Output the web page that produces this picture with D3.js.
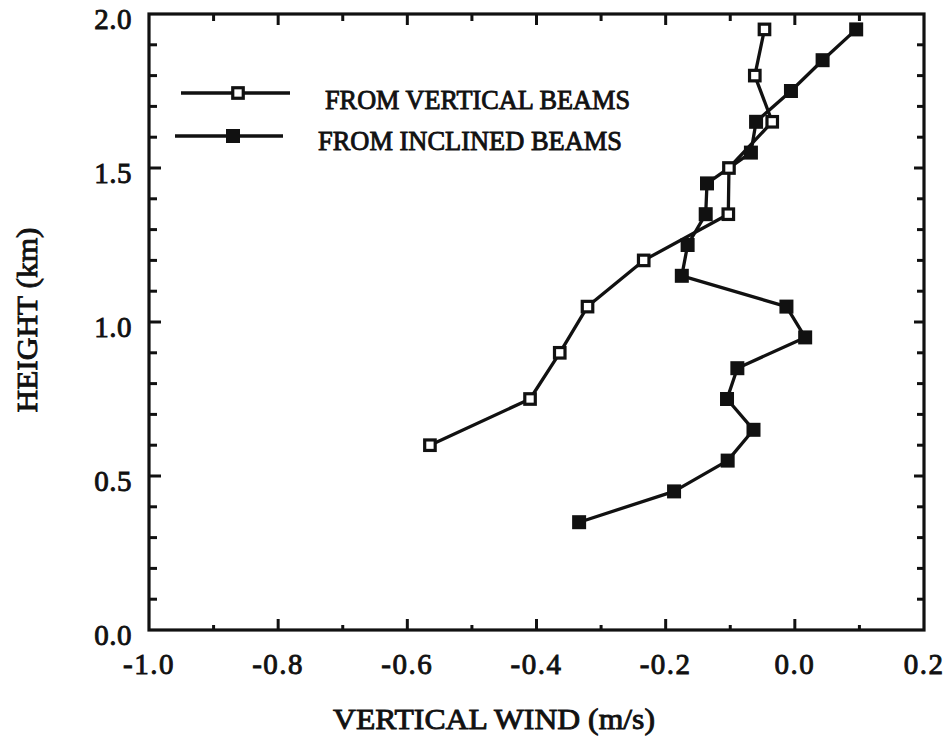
<!DOCTYPE html>
<html>
<head>
<meta charset="utf-8">
<script src="https://cdn.jsdelivr.net/npm/d3@7"></script>
<style>
  html, body { margin: 0; padding: 0; background: #fff; }
  svg { display: block; }
  text { font-family: "Liberation Serif", "Times New Roman", serif; fill: #111; }
</style>
</head>
<body>
<svg id="chart" width="947" height="744"></svg>
<script>
// Vertical wind profiles (m/s) versus height (km)
const verticalHeights = [1.95, 1.80, 1.65, 1.50, 1.35, 1.20, 1.05, 0.90, 0.75, 0.60];
const verticalWind    = [-0.047, -0.062, -0.035, -0.102, -0.103, -0.234, -0.321, -0.364, -0.410, -0.565];

const inclinedHeights = [1.95, 1.85, 1.75, 1.65, 1.55, 1.45, 1.35, 1.25, 1.15, 1.05, 0.95, 0.85, 0.75, 0.65, 0.55, 0.45, 0.35];
const inclinedWind    = [0.095, 0.043, -0.006, -0.060, -0.068, -0.136, -0.138, -0.166, -0.175, -0.013, 0.016, -0.089, -0.105, -0.064, -0.104, -0.187, -0.334];

const xTickLabels = ["-1.0", "-0.8", "-0.6", "-0.4", "-0.2", "0.0", "0.2"];
const yTickLabels = ["0.0", "0.5", "1.0", "1.5", "2.0"];
const seriesNames = ["FROM VERTICAL BEAMS", "FROM INCLINED BEAMS"];

const svg = d3.select("#chart");
const plotL = 149, plotR = 924, plotT = 14, plotB = 630;

const x = d3.scaleLinear().domain([-1.0, 0.2]).range([plotL, plotR]);
const y = d3.scaleLinear().domain([0, 2.0]).range([plotB, plotT]);

const ink = "#111";
const textStroke = 0.9;

// minor ticks every 0.1, major ticks at labelled values
const xMinor = d3.range(-9, 2).map(d => d / 10);
const yMinor = d3.range(1, 20).map(d => d / 10);
const isMajorX = v => Math.abs(Math.round(v * 10)) % 2 === 0;
const isMajorY = v => Math.round(v * 10) % 5 === 0;

const g = svg.append("g");

// bottom / top ticks (inward)
g.selectAll("line.xb").data(xMinor).enter().append("line")
  .attr("x1", d => x(d)).attr("x2", d => x(d))
  .attr("y1", plotB).attr("y2", d => plotB - (isMajorX(d) ? 11 : 5))
  .attr("stroke", ink).attr("stroke-width", 3);
g.selectAll("line.xt").data(xMinor).enter().append("line")
  .attr("x1", d => x(d)).attr("x2", d => x(d))
  .attr("y1", plotT).attr("y2", d => plotT + (isMajorX(d) ? 11 : 7))
  .attr("stroke", ink).attr("stroke-width", 3);
// left / right ticks (inward)
g.selectAll("line.yl").data(yMinor).enter().append("line")
  .attr("y1", d => y(d)).attr("y2", d => y(d))
  .attr("x1", plotL).attr("x2", d => plotL + (isMajorY(d) ? 12 : 8))
  .attr("stroke", ink).attr("stroke-width", 3);
g.selectAll("line.yr").data(yMinor).enter().append("line")
  .attr("y1", d => y(d)).attr("y2", d => y(d))
  .attr("x1", plotR).attr("x2", d => plotR - (isMajorY(d) ? 10 : 7))
  .attr("stroke", ink).attr("stroke-width", 3);

// frame
g.append("rect")
  .attr("x", plotL).attr("y", plotT)
  .attr("width", plotR - plotL).attr("height", plotB - plotT)
  .attr("fill", "none").attr("stroke", ink).attr("stroke-width", 3.2);

// tick labels
g.selectAll("text.xl").data(xTickLabels).enter().append("text")
  .attr("x", d => x(+d)).attr("y", 674)
  .attr("text-anchor", "middle")
  .attr("font-size", 29)
  .attr("letter-spacing", 1.5)
  .attr("stroke", ink).attr("stroke-width", textStroke)
  .text(d => d);
g.selectAll("text.yl").data(yTickLabels).enter().append("text")
  .attr("x", 132).attr("y", d => y(+d) + 15)
  .attr("text-anchor", "end")
  .attr("font-size", 29)
  .attr("letter-spacing", 0.5)
  .attr("stroke", ink).attr("stroke-width", textStroke)
  .text(d => d);

// axis titles
g.append("text")
  .attr("x", 494).attr("y", 729)
  .attr("text-anchor", "middle")
  .attr("font-size", 30)
  .attr("textLength", 322).attr("lengthAdjust", "spacingAndGlyphs")
  .attr("stroke", ink).attr("stroke-width", textStroke)
  .text("VERTICAL WIND (m/s)");
g.append("text")
  .attr("transform", "translate(37,320) rotate(-90)")
  .attr("text-anchor", "middle")
  .attr("font-size", 30)
  .attr("textLength", 185).attr("lengthAdjust", "spacingAndGlyphs")
  .attr("stroke", ink).attr("stroke-width", textStroke)
  .text("HEIGHT (km)");

// series
const line = d3.line().x(d => x(d.w)).y(d => y(d.h));
const vData = verticalWind.map((w, i) => ({ w, h: verticalHeights[i] }));
const iData = inclinedWind.map((w, i) => ({ w, h: inclinedHeights[i] }));

g.append("path").datum(iData).attr("d", line)
  .attr("fill", "none").attr("stroke", ink).attr("stroke-width", 3.3).attr("stroke-linejoin", "round");
g.append("path").datum(vData).attr("d", line)
  .attr("fill", "none").attr("stroke", ink).attr("stroke-width", 3.3).attr("stroke-linejoin", "round");

const fs = 14, os = 10.5;
g.selectAll("rect.fm").data(iData).enter().append("rect")
  .attr("x", d => x(d.w) - fs / 2).attr("y", d => y(d.h) - fs / 2)
  .attr("width", fs).attr("height", fs).attr("fill", ink);
g.selectAll("rect.om").data(vData).enter().append("rect")
  .attr("x", d => x(d.w) - os / 2).attr("y", d => y(d.h) - os / 2)
  .attr("width", os).attr("height", os)
  .attr("fill", "#fff").attr("stroke", ink).attr("stroke-width", 3.2);

// legend
const legend = [
  { name: seriesNames[0], x1: 181, x2: 290, mx: 238, ly: 93, tx: 325, ty: 109, tl: 305, open: true },
  { name: seriesNames[1], x1: 175, x2: 283, mx: 233, ly: 136, tx: 318, ty: 150, tl: 304, open: false }
];
legend.forEach(L => {
  g.append("line").attr("x1", L.x1).attr("x2", L.x2).attr("y1", L.ly).attr("y2", L.ly)
    .attr("stroke", ink).attr("stroke-width", 3.3);
  if (L.open) {
    g.append("rect").attr("x", L.mx - os / 2).attr("y", L.ly - os / 2)
      .attr("width", os).attr("height", os)
      .attr("fill", "#fff").attr("stroke", ink).attr("stroke-width", 3.2);
  } else {
    g.append("rect").attr("x", L.mx - fs / 2).attr("y", L.ly - fs / 2)
      .attr("width", fs).attr("height", fs).attr("fill", ink);
  }
  g.append("text").attr("x", L.tx).attr("y", L.ty)
    .attr("font-size", 27)
    .attr("textLength", L.tl).attr("lengthAdjust", "spacingAndGlyphs")
    .attr("stroke", ink).attr("stroke-width", textStroke)
    .text(L.name);
});
</script>
</body>
</html>
